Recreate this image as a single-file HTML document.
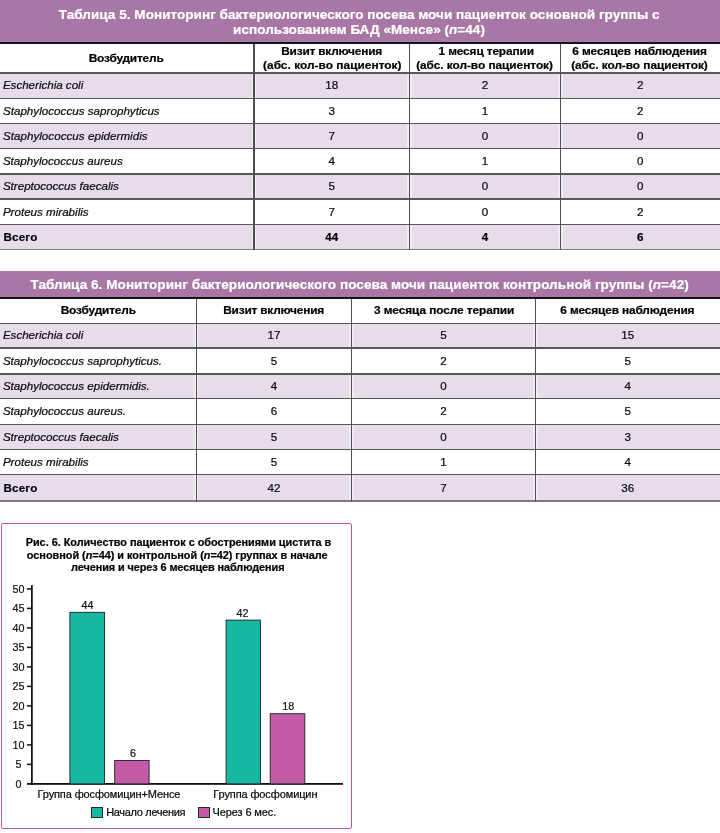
<!DOCTYPE html>
<html lang="ru"><head><meta charset="utf-8"><title>Таблицы 5, 6 и рис. 6</title>
<style>
html,body{margin:0;padding:0;background:#fff;}
body{width:720px;height:833px;position:relative;overflow:hidden;font-family:"Liberation Sans",sans-serif;color:#1c1c1c;}
.abs{position:absolute;}
.band{position:absolute;left:0;width:720px;background:#a977a5;}
.row{position:absolute;left:0;width:720px;}
.lav{background:#e7dcea;}
.hl{position:absolute;left:0;width:720px;background:#585858;}
.bl{position:absolute;left:0;width:720px;background:#151515;}
.vl{position:absolute;background:#505050;}
.halo{position:absolute;background:rgba(255,255,255,.45);}
.t{position:absolute;white-space:nowrap;line-height:14px;transform-origin:50% 50%;-webkit-text-stroke:0.22px currentColor;color:#0a0a0a;}
.w{color:#fff;font-weight:bold;}
.h{font-weight:bold;color:#000;-webkit-text-stroke:0.2px #000;}
.i{font-style:italic;}
svg text{stroke:#111;stroke-width:.2px;}
</style></head><body>

<div class="band" style="top:0px;height:42.3px"></div>
<div class="t w" id="t5t0" style="left:58.81px;top:7.52px;font-size:13.55px;letter-spacing:0.024px;">Таблица 5. Мониторинг бактериологического посева мочи пациенток основной группы с</div>
<div class="t w" id="t5t1" style="left:233.11px;top:23.32px;font-size:13.55px;letter-spacing:0.023px;">использованием БАД «Менсе» (<i>n</i>=44)</div>
<div class="row lav" style="top:73.2px;height:25.20px"></div>
<div class="row" style="top:98.4px;height:25.30px"></div>
<div class="row lav" style="top:123.7px;height:24.90px"></div>
<div class="row" style="top:148.6px;height:25.50px"></div>
<div class="row lav" style="top:174.1px;height:25.10px"></div>
<div class="row" style="top:199.2px;height:25.50px"></div>
<div class="row lav" style="top:224.7px;height:24.90px"></div>
<div class="halo" style="left:251.80px;width:4.2px;top:73.20px;height:176.40px"></div>
<div class="halo" style="left:407.40px;width:4.2px;top:73.20px;height:176.40px"></div>
<div class="halo" style="left:558.40px;width:4.2px;top:73.20px;height:176.40px"></div>
<div class="bl" style="top:42.25px;height:1.9px"></div>
<div class="hl" style="top:72.40px;height:1.6px"></div>
<div class="hl" style="top:97.60px;height:1.6px"></div>
<div class="hl" style="top:122.90px;height:1.6px"></div>
<div class="hl" style="top:147.80px;height:1.6px"></div>
<div class="hl" style="top:173.30px;height:1.6px"></div>
<div class="hl" style="top:198.40px;height:1.6px"></div>
<div class="hl" style="top:223.90px;height:1.6px"></div>
<div class="hl" style="top:248.80px;height:1.6px;background:#7d7d7d"></div>
<div class="vl" style="left:253.00px;width:1.8px;top:44.10px;height:206.30px"></div>
<div class="vl" style="left:408.60px;width:1.8px;top:44.10px;height:206.30px"></div>
<div class="vl" style="left:559.60px;width:1.8px;top:44.10px;height:206.30px"></div>
<div class="t h" id="t5h0_0" style="left:93.32px;top:50.63px;font-size:10.5px;letter-spacing:-0.161px;transform:scaleX(1.13);">Возбудитель</div>
<div class="t h" id="t5h1_0" style="left:287.06px;top:43.73px;font-size:10.5px;letter-spacing:-0.168px;transform:scaleX(1.13);">Визит включения</div>
<div class="t h" id="t5h1_1" style="left:270.61px;top:58.13px;font-size:10.5px;letter-spacing:0.031px;transform:scaleX(1.13);">(абс. кол-во пациенток)</div>
<div class="t h" id="t5h2_0" style="left:443.77px;top:43.73px;font-size:10.5px;letter-spacing:-0.115px;transform:scaleX(1.13);">1 месяц терапии</div>
<div class="t h" id="t5h2_1" style="left:424.45px;top:58.13px;font-size:10.5px;letter-spacing:-0.036px;transform:scaleX(1.13);">(абс. кол-во пациенток)</div>
<div class="t h" id="t5h3_0" style="left:579.81px;top:43.73px;font-size:10.5px;letter-spacing:-0.107px;transform:scaleX(1.13);">6 месяцев наблюдения</div>
<div class="t h" id="t5h3_1" style="left:578.66px;top:58.13px;font-size:10.5px;letter-spacing:-0.046px;transform:scaleX(1.13);">(абс. кол-во пациенток)</div>
<div class="t i" id="t5r0n" style="left:2.90px;top:78.42px;font-size:11.6px;letter-spacing:-0.015px;">Escherichia coli</div>
<div class="t " id="t5r0c1" style="left:325.25px;top:78.42px;font-size:11.6px;">18</div>
<div class="t " id="t5r0c2" style="left:481.77px;top:78.42px;font-size:11.6px;">2</div>
<div class="t " id="t5r0c3" style="left:637.02px;top:78.42px;font-size:11.6px;">2</div>
<div class="t i" id="t5r1n" style="left:2.90px;top:103.67px;font-size:11.6px;letter-spacing:0.030px;">Staphylococcus saprophyticus</div>
<div class="t " id="t5r1c1" style="left:328.47px;top:103.67px;font-size:11.6px;">3</div>
<div class="t " id="t5r1c2" style="left:481.77px;top:103.67px;font-size:11.6px;">1</div>
<div class="t " id="t5r1c3" style="left:637.02px;top:103.67px;font-size:11.6px;">2</div>
<div class="t i" id="t5r2n" style="left:2.90px;top:128.77px;font-size:11.6px;letter-spacing:0.042px;">Staphylococcus epidermidis</div>
<div class="t " id="t5r2c1" style="left:328.47px;top:128.77px;font-size:11.6px;">7</div>
<div class="t " id="t5r2c2" style="left:481.77px;top:128.77px;font-size:11.6px;">0</div>
<div class="t " id="t5r2c3" style="left:637.02px;top:128.77px;font-size:11.6px;">0</div>
<div class="t i" id="t5r3n" style="left:2.90px;top:153.97px;font-size:11.6px;">Staphylococcus aureus</div>
<div class="t " id="t5r3c1" style="left:328.47px;top:153.97px;font-size:11.6px;">4</div>
<div class="t " id="t5r3c2" style="left:481.77px;top:153.97px;font-size:11.6px;">1</div>
<div class="t " id="t5r3c3" style="left:637.02px;top:153.97px;font-size:11.6px;">0</div>
<div class="t i" id="t5r4n" style="left:2.90px;top:179.27px;font-size:11.6px;">Streptococcus faecalis</div>
<div class="t " id="t5r4c1" style="left:328.47px;top:179.27px;font-size:11.6px;">5</div>
<div class="t " id="t5r4c2" style="left:481.77px;top:179.27px;font-size:11.6px;">0</div>
<div class="t " id="t5r4c3" style="left:637.02px;top:179.27px;font-size:11.6px;">0</div>
<div class="t i" id="t5r5n" style="left:2.90px;top:204.57px;font-size:11.6px;">Proteus mirabilis</div>
<div class="t " id="t5r5c1" style="left:328.47px;top:204.57px;font-size:11.6px;">7</div>
<div class="t " id="t5r5c2" style="left:481.77px;top:204.57px;font-size:11.6px;">0</div>
<div class="t " id="t5r5c3" style="left:637.02px;top:204.57px;font-size:11.6px;">2</div>
<div class="t h" id="t5r6n" style="left:3.40px;top:229.77px;font-size:11.6px;letter-spacing:0.214px;">Всего</div>
<div class="t h" id="t5r6c1" style="left:325.25px;top:229.77px;font-size:11.6px;">44</div>
<div class="t h" id="t5r6c2" style="left:481.77px;top:229.77px;font-size:11.6px;">4</div>
<div class="t h" id="t5r6c3" style="left:637.02px;top:229.77px;font-size:11.6px;">6</div>
<div class="band" style="top:271.3px;height:25.5px"></div>
<div class="t w" id="t6t0" style="left:30.42px;top:278.22px;font-size:13.55px;letter-spacing:0.049px;">Таблица 6. Мониторинг бактериологического посева мочи пациенток контрольной группы (<i>n</i>=42)</div>
<div class="row lav" style="top:323.4px;height:24.80px"></div>
<div class="row" style="top:348.2px;height:25.70px"></div>
<div class="row lav" style="top:373.9px;height:24.70px"></div>
<div class="row" style="top:398.6px;height:25.80px"></div>
<div class="row lav" style="top:424.4px;height:25.10px"></div>
<div class="row" style="top:449.5px;height:25.15px"></div>
<div class="row lav" style="top:474.65px;height:26.15px"></div>
<div class="halo" style="left:194.30px;width:4.2px;top:323.40px;height:177.40px"></div>
<div class="halo" style="left:349.40px;width:4.2px;top:323.40px;height:177.40px"></div>
<div class="halo" style="left:533.40px;width:4.2px;top:323.40px;height:177.40px"></div>
<div class="bl" style="top:296.75px;height:1.9px"></div>
<div class="hl" style="top:322.60px;height:1.6px"></div>
<div class="hl" style="top:347.40px;height:1.6px"></div>
<div class="hl" style="top:373.10px;height:1.6px"></div>
<div class="hl" style="top:397.80px;height:1.6px"></div>
<div class="hl" style="top:423.60px;height:1.6px"></div>
<div class="hl" style="top:448.70px;height:1.6px"></div>
<div class="hl" style="top:473.85px;height:1.6px"></div>
<div class="hl" style="top:500.00px;height:1.6px;background:#7d7d7d"></div>
<div class="vl" style="left:195.50px;width:1.8px;top:298.60px;height:203.00px"></div>
<div class="vl" style="left:350.60px;width:1.8px;top:298.60px;height:203.00px"></div>
<div class="vl" style="left:534.60px;width:1.8px;top:298.60px;height:203.00px"></div>
<div class="t h" id="t6h0_0" style="left:64.55px;top:302.83px;font-size:10.5px;letter-spacing:-0.137px;transform:scaleX(1.13);">Возбудитель</div>
<div class="t h" id="t6h1_0" style="left:229.31px;top:302.83px;font-size:10.5px;letter-spacing:-0.168px;transform:scaleX(1.13);">Визит включения</div>
<div class="t h" id="t6h2_0" style="left:381.63px;top:302.83px;font-size:10.5px;letter-spacing:-0.073px;transform:scaleX(1.13);">3 месяца после терапии</div>
<div class="t h" id="t6h3_0" style="left:567.90px;top:302.83px;font-size:10.5px;letter-spacing:-0.127px;transform:scaleX(1.13);">6 месяцев наблюдения</div>
<div class="t i" id="t6r0n" style="left:2.90px;top:328.42px;font-size:11.6px;letter-spacing:-0.015px;">Escherichia coli</div>
<div class="t " id="t6r0c1" style="left:267.50px;top:328.42px;font-size:11.6px;">17</div>
<div class="t " id="t6r0c2" style="left:440.27px;top:328.42px;font-size:11.6px;">5</div>
<div class="t " id="t6r0c3" style="left:621.30px;top:328.42px;font-size:11.6px;">15</div>
<div class="t i" id="t6r1n" style="left:2.90px;top:353.67px;font-size:11.6px;">Staphylococcus saprophyticus.</div>
<div class="t " id="t6r1c1" style="left:270.72px;top:353.67px;font-size:11.6px;">5</div>
<div class="t " id="t6r1c2" style="left:440.27px;top:353.67px;font-size:11.6px;">2</div>
<div class="t " id="t6r1c3" style="left:624.52px;top:353.67px;font-size:11.6px;">5</div>
<div class="t i" id="t6r2n" style="left:2.90px;top:378.87px;font-size:11.6px;">Staphylococcus epidermidis.</div>
<div class="t " id="t6r2c1" style="left:270.72px;top:378.87px;font-size:11.6px;">4</div>
<div class="t " id="t6r2c2" style="left:440.27px;top:378.87px;font-size:11.6px;">0</div>
<div class="t " id="t6r2c3" style="left:624.52px;top:378.87px;font-size:11.6px;">4</div>
<div class="t i" id="t6r3n" style="left:2.90px;top:404.12px;font-size:11.6px;">Staphylococcus aureus.</div>
<div class="t " id="t6r3c1" style="left:270.72px;top:404.12px;font-size:11.6px;">6</div>
<div class="t " id="t6r3c2" style="left:440.27px;top:404.12px;font-size:11.6px;">2</div>
<div class="t " id="t6r3c3" style="left:624.52px;top:404.12px;font-size:11.6px;">5</div>
<div class="t i" id="t6r4n" style="left:2.90px;top:429.57px;font-size:11.6px;">Streptococcus faecalis</div>
<div class="t " id="t6r4c1" style="left:270.72px;top:429.57px;font-size:11.6px;">5</div>
<div class="t " id="t6r4c2" style="left:440.27px;top:429.57px;font-size:11.6px;">0</div>
<div class="t " id="t6r4c3" style="left:624.52px;top:429.57px;font-size:11.6px;">3</div>
<div class="t i" id="t6r5n" style="left:2.90px;top:454.69px;font-size:11.6px;">Proteus mirabilis</div>
<div class="t " id="t6r5c1" style="left:270.72px;top:454.69px;font-size:11.6px;">5</div>
<div class="t " id="t6r5c2" style="left:440.27px;top:454.69px;font-size:11.6px;">1</div>
<div class="t " id="t6r5c3" style="left:624.52px;top:454.69px;font-size:11.6px;">4</div>
<div class="t h" id="t6r6n" style="left:3.40px;top:480.74px;font-size:11.6px;letter-spacing:0.214px;">Всего</div>
<div class="t " id="t6r6c1" style="left:267.50px;top:480.74px;font-size:11.6px;">42</div>
<div class="t " id="t6r6c2" style="left:440.27px;top:480.74px;font-size:11.6px;">7</div>
<div class="t " id="t6r6c3" style="left:621.30px;top:480.74px;font-size:11.6px;">36</div>
<div class="abs" style="left:1px;top:523.1px;width:348.5px;height:304.2px;border:1.75px solid #b3579f;border-radius:2px"></div>
<div class="t h" id="cap0" style="left:36.63px;top:535.91px;font-size:10.1px;letter-spacing:-0.026px;transform:scaleX(1.08);">Рис. 6. Количество пациенток с обострениями цистита в</div>
<div class="t h" id="cap1" style="left:38.23px;top:548.56px;font-size:10.1px;letter-spacing:-0.029px;transform:scaleX(1.08);">основной (<i>n</i>=44) и контрольной (<i>n</i>=42) группах в начале</div>
<div class="t h" id="cap2" style="left:79.46px;top:561.26px;font-size:10.1px;letter-spacing:-0.089px;transform:scaleX(1.08);">лечения и через 6 месяцев наблюдения</div>
<svg class="abs" style="left:0;top:0" width="720" height="833" viewBox="0 0 720 833" font-family="Liberation Sans, sans-serif" font-size="10.8" fill="#111">
<rect x="31" y="585.1" width="1.75" height="199.70" fill="#111"/>
<rect x="27" y="783.00" width="316" height="1.8" fill="#111"/>
<text x="18.5" y="787.75" text-anchor="middle">0</text>
<rect x="26.9" y="763.65" width="4.5" height="1.5" fill="#111"/>
<text x="18.5" y="768.25" text-anchor="middle">5</text>
<rect x="26.9" y="744.15" width="4.5" height="1.5" fill="#111"/>
<text x="18.5" y="748.75" text-anchor="middle">10</text>
<rect x="26.9" y="724.65" width="4.5" height="1.5" fill="#111"/>
<text x="18.5" y="729.25" text-anchor="middle">15</text>
<rect x="26.9" y="705.15" width="4.5" height="1.5" fill="#111"/>
<text x="18.5" y="709.75" text-anchor="middle">20</text>
<rect x="26.9" y="685.65" width="4.5" height="1.5" fill="#111"/>
<text x="18.5" y="690.25" text-anchor="middle">25</text>
<rect x="26.9" y="666.15" width="4.5" height="1.5" fill="#111"/>
<text x="18.5" y="670.75" text-anchor="middle">30</text>
<rect x="26.9" y="646.65" width="4.5" height="1.5" fill="#111"/>
<text x="18.5" y="651.25" text-anchor="middle">35</text>
<rect x="26.9" y="627.15" width="4.5" height="1.5" fill="#111"/>
<text x="18.5" y="631.75" text-anchor="middle">40</text>
<rect x="26.9" y="607.65" width="4.5" height="1.5" fill="#111"/>
<text x="18.5" y="612.25" text-anchor="middle">45</text>
<rect x="26.9" y="588.15" width="4.5" height="1.5" fill="#111"/>
<text x="18.5" y="592.75" text-anchor="middle">50</text>
<rect x="69.9" y="612.30" width="34.69999999999999" height="171.60" fill="#16b8a2" stroke="#18231f" stroke-width="0.9"/>
<text x="87.4" y="608.70" text-anchor="middle">44</text>
<rect x="114.7" y="760.50" width="34.39999999999999" height="23.40" fill="#c55ba6" stroke="#18231f" stroke-width="0.9"/>
<text x="132.9" y="756.90" text-anchor="middle">6</text>
<rect x="226.1" y="620.10" width="34.29999999999998" height="163.80" fill="#16b8a2" stroke="#18231f" stroke-width="0.9"/>
<text x="242.5" y="616.50" text-anchor="middle">42</text>
<rect x="270.2" y="713.70" width="34.60000000000002" height="70.20" fill="#c55ba6" stroke="#18231f" stroke-width="0.9"/>
<text x="288.3" y="710.10" text-anchor="middle">18</text>
</svg>
<div class="t " id="xl0" style="left:37.54px;top:786.86px;font-size:11px;letter-spacing:-0.118px;">Группа фосфомицин+Менсе</div>
<div class="t " id="xl1" style="left:213.32px;top:786.86px;font-size:11px;letter-spacing:-0.114px;">Группа фосфомицин</div>
<div class="abs" style="left:91.3px;top:806.8px;width:10px;height:9.4px;background:#16b8a2;border:1px solid #1d2b29"></div>
<div class="t " id="lg0" style="left:106.21px;top:804.56px;font-size:11px;letter-spacing:-0.325px;">Начало лечения</div>
<div class="abs" style="left:197.5px;top:806.8px;width:10px;height:9.4px;background:#c55ba6;border:1px solid #1d2b29"></div>
<div class="t " id="lg1" style="left:212.57px;top:804.56px;font-size:11px;letter-spacing:-0.117px;">Через 6 мес.</div>
</body></html>
